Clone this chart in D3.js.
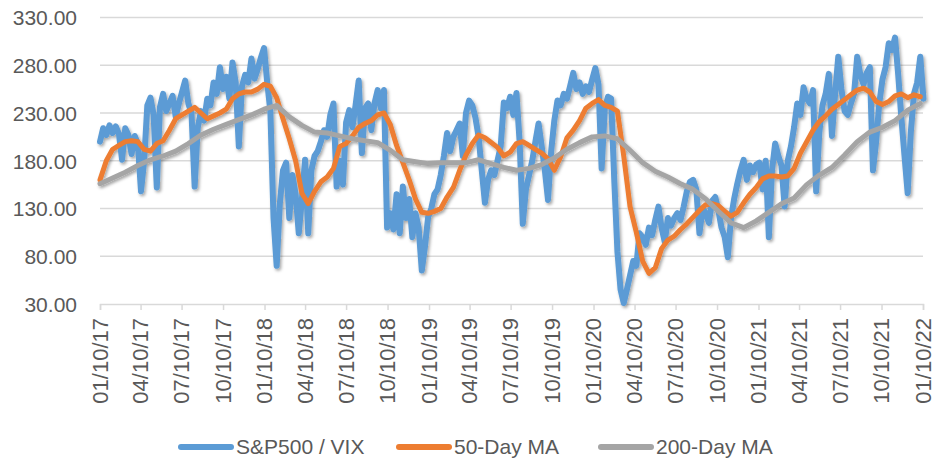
<!DOCTYPE html>
<html>
<head>
<meta charset="utf-8">
<script src="https://cdn.jsdelivr.net/npm/d3@7"></script>
<style>
  body { margin: 0; background: #fff; }
  svg { display: block; }
</style>
</head>
<body>
<script>
// weekly S&P500 / VIX ratio, starting 01/10/17
var ratioStart = "2017-01-10";
var ratioStep = 7;
var ratioValues = [
  200,214,207,217,209,216,208,181,214,207,187,206,198,148,
  180,238,246,228,152,236,250,232,240,248,226,240,252,264,240,230,
  153,215,232,222,245,238,262,250,278,255,268,245,283,262,195,258,270,262,287,266,276,
  288,298,262,232,120,70,135,170,178,120,165,145,104,
  140,181,104,170,185,190,200,212,205,228,240,153,180,155,220,233,215,238,264,188,235,240,212,240,254,235,254,
  110,125,108,145,104,153,120,140,100,125,110,65,90,121,130,145,150,165,185,
  209,190,205,212,219,185,230,243,238,225,205,170,136,160,170,165,180,195,241,235,247,228,251,200,
  114,150,165,180,200,219,195,170,139,190,222,243,238,250,245,258,272,255,262,250,258,252,265,277,260,172,235,247,245,
  160,85,45,31,45,60,75,70,104,100,92,110,102,118,132,110,95,120,112,120,125,118,132,148,158,160,150,104,130,125,115,138,142,128,110,100,79,
  120,140,156,170,181,160,175,168,176,178,150,180,100,170,198,185,175,132,180,195,215,240,228,257,245,240,254,
  148,210,238,250,271,206,250,289,255,232,228,240,250,289,270,260,272,278,170,200,240,265,278,303,296,309,270,225,185,146,210,250,262,289,245
];

// 50-day moving average, every two weeks
var ma50Start = "2017-01-10";
var ma50Step = 14;
var ma50Values = [
  160,180,192,196,200,201,200,192,190,198,
  201,212,224,228,232,236,230,224,227,230,
  234,245,250,252,252,255,260,258,246,224,
  203,180,146,135,148,158,163,172,195,198,
  206,215,219,222,228,230,218,196,178,160,
  140,126,125,127,130,142,152,170,186,198,
  207,204,199,194,185,189,198,200,196,192,
  188,182,170,184,204,212,222,235,240,244,
  238,236,232,185,132,105,75,62,68,88,
  97,101,108,114,121,128,134,135,133,127,
  122,126,136,145,152,161,164,164,163,164,
  172,188,200,212,221,227,234,239,244,249,
  254,256,252,242,239,242,248,250,246,249,
  247
];

// 200-day moving average, every four weeks
var ma200Start = "2017-01-10";
var ma200Step = 28;
var ma200Values = [
  156,162,168,175,181,185,190,198,207,213,
  218,223,228,234,238,226,217,210,209,206,
  203,201,199,191,181,179,177,178,178,178,
  181,177,173,170,172,176,183,192,199,205,
  206,203,191,178,169,163,156,150,140,127,
  115,110,117,126,135,141,155,165,173,186,
  200,210,215,222,233,240
];

var tickLabels = ["01/10/17","04/10/17","07/10/17","10/10/17","01/10/18","04/10/18","07/10/18","10/10/18",
  "01/10/19","04/10/19","07/10/19","10/10/19","01/10/20","04/10/20","07/10/20","10/10/20",
  "01/10/21","04/10/21","07/10/21","10/10/21","01/10/22"];
var yTicks = [30, 80, 130, 180, 230, 280, 330];
var seriesNames = ["S&P500 / VIX", "50-Day MA", "200-Day MA"];
var seriesColors = ["#5B9BD5", "#ED7D31", "#A5A5A5"];

var width = 932, height = 462;
var parseIso = d3.utcParse("%Y-%m-%d");
var parseTick = d3.utcParse("%m/%d/%y");

function toPoints(start, step, values) {
  var d0 = parseIso(start);
  return values.map(function(v, i) {
    return { date: d3.utcDay.offset(d0, step * i), value: v };
  });
}

var series = [
  toPoints(ratioStart, ratioStep, ratioValues),
  toPoints(ma50Start, ma50Step, ma50Values),
  toPoints(ma200Start, ma200Step, ma200Values)
];

var tickDates = tickLabels.map(parseTick);

var x = d3.scaleUtc()
  .domain([tickDates[0], tickDates[tickDates.length - 1]])
  .range([100, 923]);
var y = d3.scaleLinear().domain([30, 330]).range([304, 17.5]);

var svg = d3.select("body").append("svg")
  .attr("width", width)
  .attr("height", height);

var defs = svg.append("defs");
var f = defs.append("filter").attr("id", "shadow")
  .attr("x", "-10%").attr("y", "-10%").attr("width", "120%").attr("height", "120%");
f.append("feDropShadow")
  .attr("dx", 1.5).attr("dy", 2)
  .attr("stdDeviation", 1.8)
  .attr("flood-color", "#000")
  .attr("flood-opacity", 0.35);

// gridlines
svg.append("g").selectAll("line")
  .data(yTicks.slice(1))
  .enter().append("line")
  .attr("x1", 100).attr("x2", 923)
  .attr("y1", function(d) { return y(d); })
  .attr("y2", function(d) { return y(d); })
  .attr("stroke", "#D9D9D9")
  .attr("stroke-width", 1.5);

// y axis labels
var yAxis = d3.axisLeft(y)
  .tickValues(yTicks)
  .tickFormat(d3.format(".2f"))
  .tickSize(0)
  .tickPadding(0);
var gy = svg.append("g").attr("transform", "translate(77,0)").call(yAxis);
gy.select(".domain").remove();
gy.selectAll("text")
  .attr("fill", "#595959")
  .style("font-family", "'Liberation Sans', Arial, sans-serif")
  .style("font-size", "21px")
  .attr("dy", "0.35em");

// x axis
var xAxis = d3.axisBottom(x)
  .tickValues(tickDates)
  .tickFormat(function(d, i) { return tickLabels[i]; })
  .tickSize(6)
  .tickPadding(0);
var gx = svg.append("g").attr("transform", "translate(0,304)").call(xAxis);
gx.select(".domain").attr("stroke", "#D9D9D9").attr("stroke-width", 1.5);
gx.selectAll(".tick line").attr("stroke", "#D9D9D9").attr("stroke-width", 1.5);
gx.selectAll("text")
  .attr("fill", "#595959")
  .style("font-family", "'Liberation Sans', Arial, sans-serif")
  .style("font-size", "22px")
  .attr("text-anchor", "end")
  .attr("transform", "rotate(-90)")
  .attr("x", -14)
  .attr("y", 0)
  .attr("dy", "0.33em");

// lines
var line = d3.line()
  .x(function(d) { return x(d.date); })
  .y(function(d) { return y(d.value); });

svg.append("g").attr("filter", "url(#shadow)")
  .selectAll("path")
  .data(series)
  .enter().append("path")
  .attr("d", line)
  .attr("fill", "none")
  .attr("stroke", function(d, i) { return seriesColors[i]; })
  .attr("stroke-width", function(d, i) { return i === 0 ? 6 : 5; })
  .attr("stroke-linejoin", "round")
  .attr("stroke-linecap", "round");

// legend
var legendX = [178, 396, 598];
var lg = svg.append("g").selectAll("g")
  .data(seriesNames)
  .enter().append("g")
  .attr("transform", function(d, i) { return "translate(" + legendX[i] + ",447)"; });
lg.append("line")
  .attr("x1", 3).attr("x2", 53)
  .attr("y1", 0).attr("y2", 0)
  .attr("stroke", function(d, i) { return seriesColors[i]; })
  .attr("stroke-width", 6)
  .attr("stroke-linecap", "round");
lg.append("text")
  .attr("x", 58)
  .attr("y", 0)
  .attr("dy", "0.35em")
  .attr("fill", "#595959")
  .style("font-family", "'Liberation Sans', Arial, sans-serif")
  .style("font-size", "21px")
  .text(function(d) { return d; });
</script>
</body>
</html>
